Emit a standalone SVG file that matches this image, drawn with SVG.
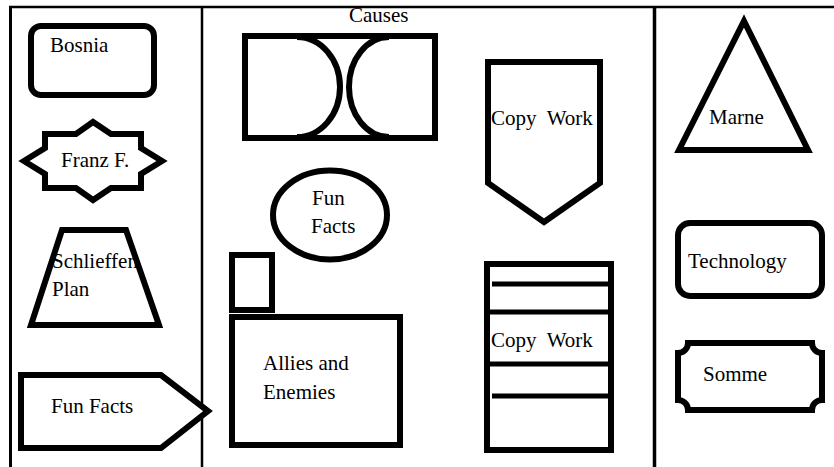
<svg xmlns="http://www.w3.org/2000/svg" width="834" height="467" viewBox="0 0 834 467">
  <style>
    text { font-family: "Liberation Serif", "Times New Roman", serif; font-size: 21px; fill: #000; white-space: pre; }
    .shape { fill: #fff; stroke: #000; stroke-width: 6; stroke-linejoin: miter; }
    .edge { fill: none; stroke: #000; stroke-width: 6; stroke-linejoin: miter; }
    .rule { stroke: #000; fill: none; }
  </style>

  <!-- column frame -->
  <g id="frame">
    <line class="rule" x1="9" y1="7" x2="834" y2="7" stroke-width="2.5"/>
    <line class="rule" x1="10.5" y1="6" x2="10.5" y2="467" stroke-width="3"/>
    <line class="rule" x1="202" y1="6" x2="202" y2="467" stroke-width="2.5"/>
    <line class="rule" x1="654.5" y1="6" x2="654.5" y2="467" stroke-width="3.5"/>
  </g>

  <!-- left column -->
  <g id="bosnia">
    <rect class="shape" x="31" y="26" width="123" height="69" rx="10"/>
    <text x="50" y="52">Bosnia</text>
  </g>

  <g id="franz">
    <path class="shape" d="M45,134 H76 L93,122 L111,134 H141 V148 L162,161 L141,174 V188 H111 L93,200 L76,188 H45 V174 L24,161 L45,148 Z" stroke-width="5"/>
    <text x="61" y="167">Franz F.</text>
  </g>

  <g id="schlieffen">
    <path d="M62,230 H126 L159,325 H31 Z" fill="#fff"/>
    <text x="52" y="268">Schlieffen</text>
    <text x="52" y="296">Plan</text>
    <path class="edge" d="M62,230 H126 L159,325 H31 Z"/>
  </g>

  <g id="fun-facts-left">
    <path class="shape" d="M21,375 H161 L208,411 L161,448 H21 Z"/>
    <text x="51" y="413">Fun Facts</text>
  </g>

  <!-- middle column -->
  <g id="causes">
    <text x="349" y="22">Causes</text>
    <rect class="shape" x="245" y="36" width="190" height="102" stroke-width="8"/>
    <path class="edge" d="M297,37 A43,50 0 0 1 297,137"/>
    <path class="edge" d="M389,37 A40,50 0 0 0 389,137"/>
  </g>

  <g id="fun-facts-oval">
    <ellipse class="shape" cx="330" cy="215" rx="57" ry="44.5"/>
    <text x="312" y="205">Fun</text>
    <text x="311" y="233">Facts</text>
  </g>

  <g id="small-box">
    <rect class="shape" x="232" y="255" width="40" height="55"/>
  </g>

  <g id="allies">
    <rect class="shape" x="232" y="317" width="168" height="128"/>
    <text x="263" y="370">Allies and</text>
    <text x="263" y="399">Enemies</text>
  </g>

  <g id="copy-work-shield">
    <path class="shape" d="M488,62 H600 V183 L544,222 L488,183 Z"/>
    <text x="491" y="125" xml:space="preserve">Copy  Work</text>
  </g>

  <g id="copy-work-list">
    <rect class="shape" x="487" y="264" width="124" height="186"/>
    <line class="rule" x1="492" y1="284" x2="608" y2="284" stroke-width="5"/>
    <line class="rule" x1="487" y1="312" x2="611" y2="312" stroke-width="5"/>
    <line class="rule" x1="487" y1="364" x2="611" y2="364" stroke-width="5"/>
    <line class="rule" x1="492" y1="396" x2="608" y2="396" stroke-width="5"/>
    <text x="491" y="347" xml:space="preserve">Copy  Work</text>
  </g>

  <!-- right column -->
  <g id="marne">
    <path class="shape" d="M744,21 L808,150 H679 Z"/>
    <text x="709" y="124">Marne</text>
  </g>

  <g id="technology">
    <rect class="shape" x="678" y="223" width="144" height="73" rx="12"/>
    <text x="688" y="268">Technology</text>
  </g>

  <g id="somme">
    <path class="shape" d="M688,343 H812 A10,10 0 0 0 822,353 V400 A10,10 0 0 0 812,410 H688 A10,10 0 0 0 678,400 V353 A10,10 0 0 0 688,343 Z"/>
    <text x="703" y="381">Somme</text>
  </g>
</svg>
